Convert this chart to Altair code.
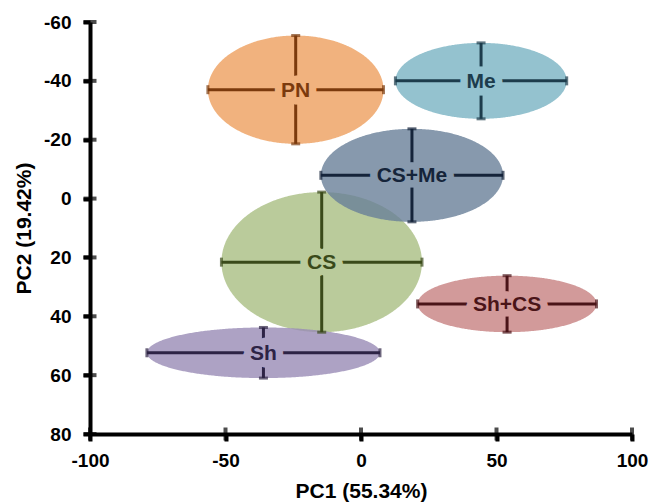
import altair as alt
import numpy as np
import pandas as pd

# ---- values ----
groups = ["CS", "Sh", "PN", "Me", "CS+Me", "Sh+CS"]
pc1_center = [-14.5, -36.0, -24.1, 44.3, 18.8, 53.9]
pc2_center = [21.6, 52.4, -37.0, -40.0, -7.9, 35.8]
pc1_err = [37.0, 43.0, 32.4, 31.6, 33.6, 33.0]
pc2_err = [23.8, 8.6, 18.4, 12.9, 15.8, 9.6]

x_ticks = [-100, -50, 0, 50, 100]
y_ticks = [-60, -40, -20, 0, 20, 40, 60, 80]

# styles
fill_colors = ["#A9BE82", "#998BB5", "#EE9F5E", "#79B3C3", "#697F99", "#C78181"]
label_bg_colors = ["#BACB9B", "#ADA2C4", "#F1B27E", "#94C2CF", "#8799AD", "#D29A9A"]
line_colors = ["#3A4A1A", "#2D2345", "#7B3A0D", "#1D3C4C", "#15243A", "#4A1418"]

FONT = "Liberation Sans"

df = pd.DataFrame({
    "group": groups,
    "pc1": pc1_center,
    "pc2": pc2_center,
    "pc1_err": pc1_err,
    "pc2_err": pc2_err,
})

# ellipse outlines built from centre and error half-widths
rows = []
t = np.linspace(0, np.pi, 241)
for g, cx, cy, rx, ry in zip(groups, pc1_center, pc2_center, pc1_err, pc2_err):
    for tt in t:
        rows.append({
            "group": g,
            "x": cx - rx * np.cos(tt),
            "y_top": cy - ry * np.sin(tt),
            "y_bot": cy + ry * np.sin(tt),
        })
ell = pd.DataFrame(rows)

xscale = alt.Scale(domain=[-100, 100], nice=False, zero=False)
yscale = alt.Scale(domain=[-60, 80], nice=False, zero=False, reverse=True)

x_axis = alt.Axis(
    values=x_ticks, title="PC1 (55.34%)", grid=False,
    labelExpr="'' + datum.value",
    domainColor="black", domainWidth=4, tickColor="black", tickWidth=4, tickSize=7,
    labelFont=FONT, labelFontSize=19, labelFontWeight="bold", labelColor="black",
    labelPadding=10, labelFlush=False,
    titleFont=FONT, titleFontSize=21, titleFontWeight="bold", titleColor="black",
    titlePadding=10,
)
y_axis = alt.Axis(
    values=y_ticks, title="PC2 (19.42%)", grid=False,
    labelExpr="'' + datum.value",
    domainColor="black", domainWidth=4, tickColor="black", tickWidth=4, tickSize=7,
    labelFont=FONT, labelFontSize=19, labelFontWeight="bold", labelColor="black",
    labelPadding=12, labelFlush=False,
    titleFont=FONT, titleFontSize=21, titleFontWeight="bold", titleColor="black",
    titlePadding=9,
)

fill_scale = alt.Scale(domain=groups, range=fill_colors)
bg_scale = alt.Scale(domain=groups, range=label_bg_colors)
line_scale = alt.Scale(domain=groups, range=line_colors)

ellipses = alt.Chart(ell).mark_area(opacity=0.8).encode(
    x=alt.X("x:Q", scale=xscale, axis=x_axis),
    y=alt.Y("y_top:Q", scale=yscale, axis=y_axis),
    y2="y_bot:Q",
    fill=alt.Fill("group:N", scale=fill_scale, legend=None),
    detail="group:N",
)

base = alt.Chart(df).transform_calculate(
    x_lo="datum.pc1 - datum.pc1_err",
    x_hi="datum.pc1 + datum.pc1_err",
    y_lo="datum.pc2 - datum.pc2_err",
    y_hi="datum.pc2 + datum.pc2_err",
)
col = alt.Color("group:N", scale=line_scale, legend=None)

h_bars = base.mark_rule(strokeWidth=3).encode(
    x=alt.X("x_lo:Q", scale=xscale), x2="x_hi:Q",
    y=alt.Y("pc2:Q", scale=yscale), color=col,
)
v_bars = base.mark_rule(strokeWidth=3).encode(
    x=alt.X("pc1:Q", scale=xscale),
    y=alt.Y("y_lo:Q", scale=yscale), y2="y_hi:Q", color=col,
)
cap_l = base.mark_tick(orient="vertical", size=9, thickness=3).encode(
    x=alt.X("x_lo:Q", scale=xscale), y=alt.Y("pc2:Q", scale=yscale), color=col)
cap_r = base.mark_tick(orient="vertical", size=9, thickness=3).encode(
    x=alt.X("x_hi:Q", scale=xscale), y=alt.Y("pc2:Q", scale=yscale), color=col)
cap_t = base.mark_tick(orient="horizontal", size=9, thickness=3).encode(
    x=alt.X("pc1:Q", scale=xscale), y=alt.Y("y_lo:Q", scale=yscale), color=col)
cap_b = base.mark_tick(orient="horizontal", size=9, thickness=3).encode(
    x=alt.X("pc1:Q", scale=xscale), y=alt.Y("y_hi:Q", scale=yscale), color=col)

label_bg = alt.Chart(df).mark_text(
    font=FONT, fontSize=21, fontWeight="bold", strokeWidth=15,
    strokeJoin="round", fillOpacity=0, align="center", baseline="middle", dy=1,
).encode(
    x=alt.X("pc1:Q", scale=xscale), y=alt.Y("pc2:Q", scale=yscale),
    text="group:N",
    stroke=alt.Stroke("group:N", scale=bg_scale, legend=None),
)
labels = alt.Chart(df).mark_text(
    font=FONT, fontSize=21, fontWeight="bold", align="center", baseline="middle", dy=1,
).encode(
    x=alt.X("pc1:Q", scale=xscale), y=alt.Y("pc2:Q", scale=yscale),
    text="group:N", color=col,
)

# axis tick stubs crossing the axis lines
ytick_df = pd.DataFrame({"v": y_ticks, "x0": [x_ticks[0]] * len(y_ticks)})
xtick_df = pd.DataFrame({"v": x_ticks, "y0": [y_ticks[-1]] * len(x_ticks)})
ystubs = alt.Chart(ytick_df).mark_tick(orient="horizontal", size=13, thickness=4, color="black").encode(
    x=alt.X("x0:Q", scale=xscale), y=alt.Y("v:Q", scale=yscale))
xstubs = alt.Chart(xtick_df).mark_tick(orient="vertical", size=13, thickness=4, color="black").encode(
    x=alt.X("v:Q", scale=xscale), y=alt.Y("y0:Q", scale=yscale))

chart = alt.layer(
    ellipses, h_bars, v_bars, cap_l, cap_r, cap_t, cap_b, label_bg, labels, ystubs, xstubs
).resolve_scale(
    color="shared"
).properties(
    width=542, height=412,
    autosize=alt.AutoSizeParams(type="none"),
    padding={"left": 90, "top": 22, "right": 18, "bottom": 68},
    background="white",
).configure_view(stroke=None)

chart.save("out.html", embed_options={"renderer": "svg", "actions": False})
